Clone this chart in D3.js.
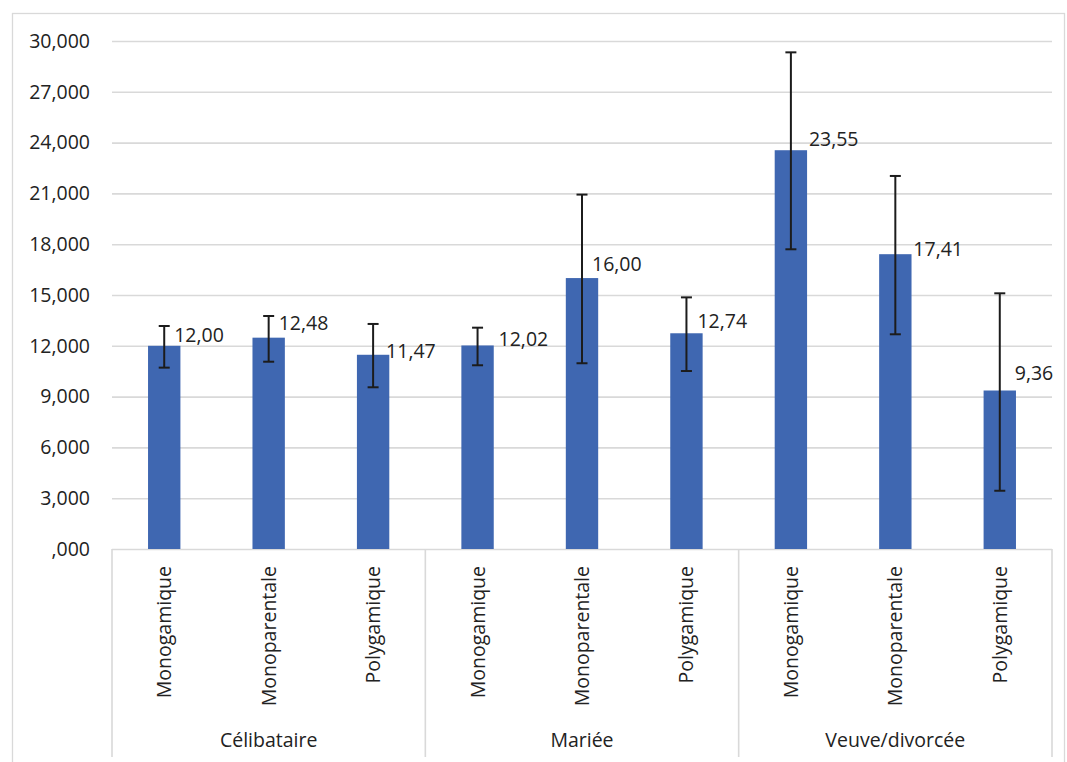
<!DOCTYPE html>
<html>
<head>
<meta charset="utf-8">
<script src="https://cdn.jsdelivr.net/npm/d3@7/dist/d3.min.js"></script>
<style>
  html, body { margin: 0; padding: 0; background: #ffffff; }
  svg { display: block; font-family: "Open Sans", "Liberation Sans", sans-serif; }
</style>
</head>
<body>
<script>
// ---- Data ----
const groups = ["Célibataire", "Mariée", "Veuve/divorcée"];
const subCategories = ["Monogamique", "Monoparentale", "Polygamique"];
const values = [12.00, 12.48, 11.47, 12.02, 16.00, 12.74, 23.55, 17.41, 9.36];
const errLow = [10.71, 11.06, 9.55, 10.85, 10.97, 10.51, 17.70, 12.68, 3.44];
const errHigh = [13.17, 13.76, 13.29, 13.07, 20.93, 14.86, 29.33, 22.03, 15.10];
const yTicks = [0, 3, 6, 9, 12, 15, 18, 21, 24, 27, 30];

// ---- Layout ----
const W = 1067, H = 762;
const plot = { left: 112, right: 1052, top: 41, bottom: 549 };
const axisBottom = 757;
// manual label nudges [dx from bar centre, dy of baseline from bar top]
const labelNudge = [[10, -4], [10, -8], [13, 3], [21, 1], [10, -7], [11, -5], [18, -4], [18, 2], [15, -11]];

const rows = [];
groups.forEach((g, gi) => subCategories.forEach((s, si) => {
  const i = gi * subCategories.length + si;
  rows.push({ i, group: g, sub: s, value: values[i], lo: errLow[i], hi: errHigh[i] });
}));

const svg = d3.select("body").append("svg").attr("width", W).attr("height", H);

// outer frame
svg.append("rect").attr("x", 12.5).attr("y", 13.5).attr("width", 1052).attr("height", 760)
  .attr("fill", "none").attr("stroke", "#d9d9d9").attr("stroke-width", 1.3);

const x = d3.scaleBand().domain(rows.map(d => d.i)).range([plot.left, plot.right])
  .paddingInner(0.69).paddingOuter(0.345);
const y = d3.scaleLinear().domain([0, 30]).range([plot.bottom, plot.top]);

const fmtTick = v => { const s = d3.format(".3f")(v).replace(".", ","); return s.startsWith("0,") ? s.slice(1) : s; };
const fmtVal = v => d3.format(".2f")(v).replace(".", ",");

// y axis + gridlines
const yAxis = svg.append("g").attr("transform", `translate(${plot.left},0)`)
  .call(d3.axisLeft(y).tickValues(yTicks).tickFormat(fmtTick)
    .tickSize(-(plot.right - plot.left)).tickPadding(22));
yAxis.select(".domain").remove();
yAxis.selectAll(".tick line").attr("stroke", "#d9d9d9").attr("stroke-width", 1.6);
yAxis.selectAll(".tick text").attr("fill", "#222").attr("font-size", "19.5px")
  .attr("font-family", "'Open Sans', sans-serif");

// category axis separators
const step = x.step();
const sepX = d3.range(groups.length + 1).map(k => plot.left + k * subCategories.length * step);
svg.append("g").selectAll("line").data(sepX).join("line")
  .attr("x1", d => d).attr("x2", d => d).attr("y1", plot.bottom).attr("y2", axisBottom)
  .attr("stroke", "#d9d9d9").attr("stroke-width", 1.6);

// bars
svg.append("g").selectAll("rect").data(rows).join("rect")
  .attr("x", d => x(d.i)).attr("width", x.bandwidth())
  .attr("y", d => y(d.value)).attr("height", d => y(0) - y(d.value))
  .attr("fill", "#3f67b1");

// error bars
const eb = svg.append("g").attr("stroke", "#1c1c1c").attr("stroke-width", 2);
rows.forEach(d => {
  const cx = x(d.i) + x.bandwidth() / 2;
  eb.append("line").attr("x1", cx).attr("x2", cx).attr("y1", y(d.lo)).attr("y2", y(d.hi));
  [d.lo, d.hi].forEach(v => eb.append("line").attr("x1", cx - 5.5).attr("x2", cx + 5.5)
    .attr("y1", y(v)).attr("y2", y(v)));
});

// value labels
svg.append("g").selectAll("text").data(rows).join("text")
  .attr("x", d => x(d.i) + x.bandwidth() / 2 + labelNudge[d.i][0])
  .attr("y", d => y(d.value) + labelNudge[d.i][1])
  .attr("font-size", "19.5px").attr("fill", "#222")
  .text(d => fmtVal(d.value));

// sub-category labels (rotated)
svg.append("g").selectAll("text").data(rows).join("text")
  .attr("transform", d => `translate(${x(d.i) + x.bandwidth() / 2 + 7},566) rotate(-90)`)
  .attr("text-anchor", "end").attr("font-size", "19.5px").attr("fill", "#222")
  .text(d => d.sub);

// group labels
svg.append("g").selectAll("text").data(groups).join("text")
  .attr("x", (d, k) => (sepX[k] + sepX[k + 1]) / 2).attr("y", 747)
  .attr("text-anchor", "middle").attr("font-size", "19.5px").attr("fill", "#222")
  .text(d => d);
</script>
</body>
</html>
